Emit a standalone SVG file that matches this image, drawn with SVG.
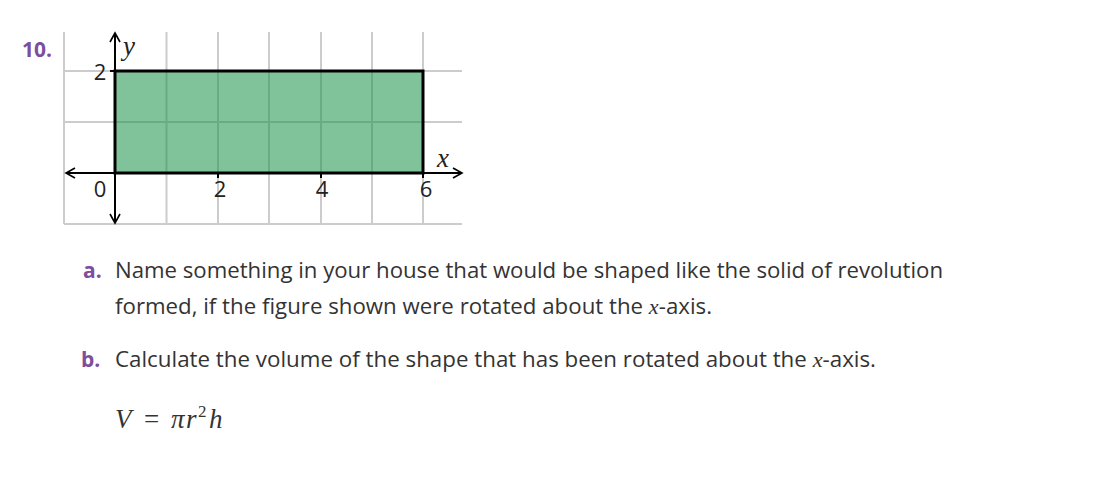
<svg xmlns="http://www.w3.org/2000/svg" width="1095" height="477" viewBox="0 0 1095 477">
<defs>
<style>
.grid{stroke:#cccccc;stroke-width:2;fill:none}
.ax{stroke:#000;stroke-width:2;fill:none}
.num{font-family:"Open Sans","Noto Sans",sans-serif;font-size:22px;fill:#222}
.var{font-family:"Liberation Serif","DejaVu Serif",serif;font-style:italic;font-size:27px;fill:#222}
.body{font-family:"Open Sans","Noto Sans",sans-serif;font-size:21px;fill:#333}
.lbl{font-family:"Open Sans","Lato",sans-serif;font-size:21px;font-weight:bold;fill:#7d4e9e}
.mi{font-family:"Liberation Serif",serif;font-style:italic}
.fm{font-family:"Liberation Serif",serif;font-size:27px;fill:#333}
</style>
<marker id="arr" viewBox="0 0 12 12" refX="10" refY="6" markerWidth="12" markerHeight="12" markerUnits="userSpaceOnUse" orient="auto-start-reverse">
<path d="M1,1 L10,6 L1,11" fill="none" stroke="#000" stroke-width="1.6"/>
</marker>
</defs>
<rect width="1095" height="477" fill="#fff"/>
<text class="lbl" x="22" y="57" textLength="30" lengthAdjust="spacingAndGlyphs">10.</text>
<g id="grid">
<path class="grid" d="M64,32V224M166.5,32V224M218,32V224M269,32V224M321,32V224M372,32V224M423,32V224M64,71H462M64,122H462M64,224H462"/>
</g>
<g id="rect">
<rect x="115" y="71" width="308" height="102" fill="#80c29a" stroke="none"/>
<path d="M166.5,71V173M218,71V173M269,71V173M321,71V173M372,71V173M115,122H423" stroke="#6aaa84" stroke-width="2" fill="none"/>
<rect x="115" y="71" width="308" height="102" fill="none" stroke="#000" stroke-width="3"/>
</g>
<g id="axes">
<line class="ax" x1="66" y1="173" x2="462" y2="173" marker-start="url(#arr)" marker-end="url(#arr)"/>
<line class="ax" x1="115" y1="33" x2="115" y2="223" marker-start="url(#arr)" marker-end="url(#arr)"/>
<line class="ax" x1="110" y1="71" x2="115" y2="71"/>
<line class="ax" x1="218" y1="173" x2="218" y2="178"/>
<line class="ax" x1="321" y1="173" x2="321" y2="178"/>
<line class="ax" x1="423" y1="173" x2="423" y2="178"/>
</g>
<g id="labels">
<text class="num" x="100" y="80" text-anchor="middle">2</text>
<text class="var" x="129" y="55" text-anchor="middle">y</text>
<text class="num" x="100" y="197" text-anchor="middle">0</text>
<text class="num" x="220" y="197" text-anchor="middle">2</text>
<text class="num" x="322" y="197" text-anchor="middle">4</text>
<text class="num" x="426" y="197" text-anchor="middle">6</text>
<text class="var" x="443" y="167" text-anchor="middle">x</text>
</g>
<g id="text">
<text class="lbl" x="83" y="278">a.</text>
<text class="body" x="115" y="278" textLength="828" lengthAdjust="spacingAndGlyphs">Name something in your house that would be shaped like the solid of revolution</text>
<text class="body" x="115" y="314" textLength="597" lengthAdjust="spacingAndGlyphs">formed, if the figure shown were rotated about the <tspan class="mi">x</tspan>-axis.</text>
<text class="lbl" x="81" y="367">b.</text>
<text class="body" x="115" y="367" textLength="761" lengthAdjust="spacingAndGlyphs">Calculate the volume of the shape that has been rotated about the <tspan class="mi">x</tspan>-axis.</text>
<text class="fm" y="428"><tspan x="115" font-style="italic">V</tspan><tspan x="144">=</tspan><tspan x="171" font-style="italic">π</tspan><tspan x="186" font-style="italic">r</tspan><tspan x="198" font-size="17" y="417">2</tspan><tspan x="209" y="428" font-style="italic">h</tspan></text>
</g>
</svg>
